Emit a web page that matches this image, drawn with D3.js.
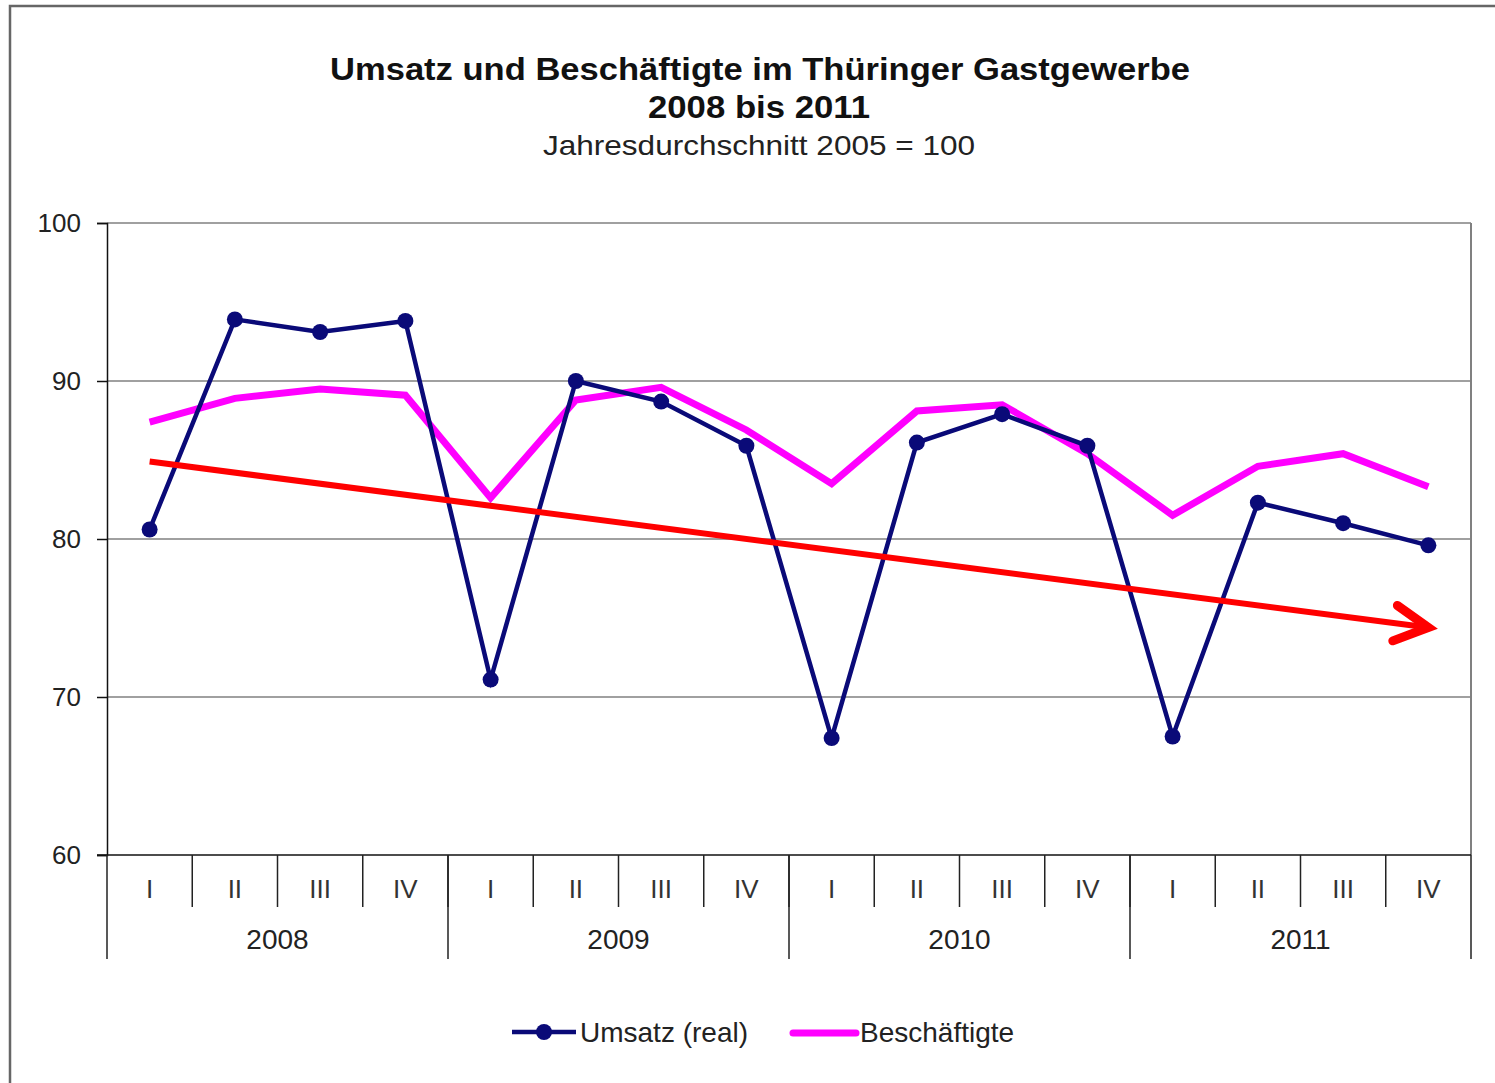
<!DOCTYPE html>
<html>
<head>
<meta charset="utf-8">
<script src="https://cdn.jsdelivr.net/npm/d3@7"></script>
<style>
  body { margin: 0; background: #fff; }
  text { font-family: "Liberation Sans", Arial, sans-serif; }
</style>
</head>
<body>
<div id="chart"></div>
<script>
// data
const years = ["2008", "2009", "2010", "2011"];
const quarters = ["I", "II", "III", "IV"];
const umsatz = [80.6, 93.9, 93.1, 93.8, 71.1, 90.0, 88.7, 85.9, 67.4, 86.1, 87.9, 85.9, 67.5, 82.3, 81.0, 79.6];
const beschaeftigte = [87.4, 88.9, 89.5, 89.1, 82.6, 88.8, 89.6, 86.9, 83.5, 88.1, 88.5, 85.4, 81.5, 84.6, 85.4, 83.3];
const yTicks = [60, 70, 80, 90, 100];
const trend = [84.9, 74.4]; // red arrow: start at first quarter, end at last quarter

const width = 1495, height = 1083;
const plot = { left: 107, top: 223, right: 1471, bottom: 855 };

const svg = d3.select("#chart").append("svg")
  .attr("width", width)
  .attr("height", height);

// outer frame (only top and left edges visible)
svg.append("path")
  .attr("d", `M10,${height} L10,6 L${width},6`)
  .attr("fill", "none")
  .attr("stroke", "#666")
  .attr("stroke-width", 2.5);

const cats = d3.range(umsatz.length);
const x = d3.scaleBand().domain(cats).range([plot.left, plot.right]).padding(0);
const xYear = d3.scaleBand().domain(years).range([plot.left, plot.right]).padding(0);
const y = d3.scaleLinear().domain([60, 100]).range([plot.bottom, plot.top]);
const cx = i => x(i) + x.bandwidth() / 2;

// gridlines
svg.append("g")
  .selectAll("line")
  .data(yTicks.filter(d => d > 60))
  .enter().append("line")
  .attr("x1", plot.left).attr("x2", plot.right)
  .attr("y1", d => y(d)).attr("y2", d => y(d))
  .attr("stroke", "#808080")
  .attr("stroke-width", 1.5);

// right edge of plot
svg.append("line")
  .attr("x1", plot.right).attr("x2", plot.right)
  .attr("y1", plot.top).attr("y2", plot.bottom)
  .attr("stroke", "#808080").attr("stroke-width", 2);

// y axis
const yAxis = svg.append("g")
  .attr("transform", `translate(${plot.left},0)`)
  .call(d3.axisLeft(y).tickValues(yTicks).tickSize(10).tickPadding(16));
yAxis.select(".domain").attr("stroke", "#111").attr("stroke-width", 1.5);
yAxis.selectAll(".tick line").attr("stroke", "#111").attr("stroke-width", 1.5);
yAxis.selectAll(".tick text")
  .attr("fill", "#222")
  .style("font-size", "26px")
  .style("font-family", "Liberation Sans, Arial, sans-serif");

// x axis baseline
svg.append("line")
  .attr("x1", plot.left - 10).attr("x2", plot.right)
  .attr("y1", plot.bottom).attr("y2", plot.bottom)
  .attr("stroke", "#111").attr("stroke-width", 1.5);

// quarter separators
svg.append("g")
  .selectAll("line")
  .data(cats.slice(1))
  .enter().append("line")
  .attr("x1", d => x(d)).attr("x2", d => x(d))
  .attr("y1", plot.bottom).attr("y2", plot.bottom + 52)
  .attr("stroke", "#222").attr("stroke-width", 1.5);

// year separators
svg.append("g")
  .selectAll("line")
  .data(years.concat(["end"]))
  .enter().append("line")
  .attr("x1", d => d === "end" ? plot.right : xYear(d))
  .attr("x2", d => d === "end" ? plot.right : xYear(d))
  .attr("y1", plot.bottom).attr("y2", plot.bottom + 104)
  .attr("stroke", "#222").attr("stroke-width", 1.5);

// quarter labels
svg.append("g")
  .selectAll("text")
  .data(cats)
  .enter().append("text")
  .attr("x", d => cx(d))
  .attr("y", plot.bottom + 43)
  .attr("text-anchor", "middle")
  .style("font-size", "26px")
  .style("fill", "#333")
  .text(d => quarters[d % 4]);

// year labels
svg.append("g")
  .selectAll("text")
  .data(years)
  .enter().append("text")
  .attr("x", d => xYear(d) + xYear.bandwidth() / 2)
  .attr("y", plot.bottom + 94)
  .attr("text-anchor", "middle")
  .style("font-size", "28px")
  .style("fill", "#222")
  .text(d => d);

// lines
const line = d3.line().x((d, i) => cx(i)).y(d => y(d));

svg.append("path")
  .datum(beschaeftigte)
  .attr("d", line)
  .attr("fill", "none")
  .attr("stroke", "#ff00ff")
  .attr("stroke-width", 7)
  .attr("stroke-linejoin", "miter");

svg.append("path")
  .datum(umsatz)
  .attr("d", line)
  .attr("fill", "none")
  .attr("stroke", "#0a0a78")
  .attr("stroke-width", 4.5);

svg.append("g")
  .selectAll("circle")
  .data(umsatz)
  .enter().append("circle")
  .attr("cx", (d, i) => cx(i))
  .attr("cy", d => y(d))
  .attr("r", 8)
  .attr("fill", "#0a0a78");

// red trend arrow
const x0 = cx(0), y0 = y(trend[0]);
const x1 = cx(cats.length - 1), y1 = y(trend[1]);
const ang = Math.atan2(y1 - y0, x1 - x0);
const arm = 38, spread = 28 * Math.PI / 180;
const head = [ang + Math.PI - spread, ang + Math.PI + spread]
  .map(a => [x1 + arm * Math.cos(a), y1 + arm * Math.sin(a)]);

svg.append("line")
  .attr("x1", x0).attr("y1", y0)
  .attr("x2", x1 - 4 * Math.cos(ang)).attr("y2", y1 - 4 * Math.sin(ang))
  .attr("stroke", "#ff0000")
  .attr("stroke-width", 6);

svg.append("path")
  .attr("d", `M${head[0][0]},${head[0][1]} L${x1},${y1} L${head[1][0]},${head[1][1]}`)
  .attr("fill", "none")
  .attr("stroke", "#ff0000")
  .attr("stroke-width", 9)
  .attr("stroke-linecap", "round")
  .attr("stroke-linejoin", "miter");

// titles
svg.append("text")
  .attr("x", 760).attr("y", 80)
  .attr("text-anchor", "middle")
  .attr("textLength", 860).attr("lengthAdjust", "spacingAndGlyphs")
  .style("font-size", "31px").style("font-weight", "bold").style("fill", "#111")
  .text("Umsatz und Beschäftigte im Thüringer Gastgewerbe");

svg.append("text")
  .attr("x", 759).attr("y", 118)
  .attr("text-anchor", "middle")
  .attr("textLength", 222).attr("lengthAdjust", "spacingAndGlyphs")
  .style("font-size", "31px").style("font-weight", "bold").style("fill", "#111")
  .text("2008 bis 2011");

svg.append("text")
  .attr("x", 759).attr("y", 155)
  .attr("text-anchor", "middle")
  .attr("textLength", 432).attr("lengthAdjust", "spacingAndGlyphs")
  .style("font-size", "28px").style("fill", "#222")
  .text("Jahresdurchschnitt 2005 = 100");

// legend
const legend = svg.append("g").attr("transform", "translate(0,1032)");
legend.append("line")
  .attr("x1", 512).attr("x2", 576).attr("y1", 0).attr("y2", 0)
  .attr("stroke", "#0a0a78").attr("stroke-width", 4.5);
legend.append("circle")
  .attr("cx", 544).attr("cy", 0).attr("r", 8).attr("fill", "#0a0a78");
legend.append("text")
  .attr("x", 580).attr("y", 10)
  .style("font-size", "28px").style("fill", "#222")
  .text("Umsatz (real)");

legend.append("line")
  .attr("x1", 793).attr("x2", 856).attr("y1", 1).attr("y2", 1)
  .attr("stroke", "#ff00ff").attr("stroke-width", 7)
  .attr("stroke-linecap", "round");
legend.append("text")
  .attr("x", 860).attr("y", 10)
  .style("font-size", "28px").style("fill", "#222")
  .text("Beschäftigte");
</script>
</body>
</html>
